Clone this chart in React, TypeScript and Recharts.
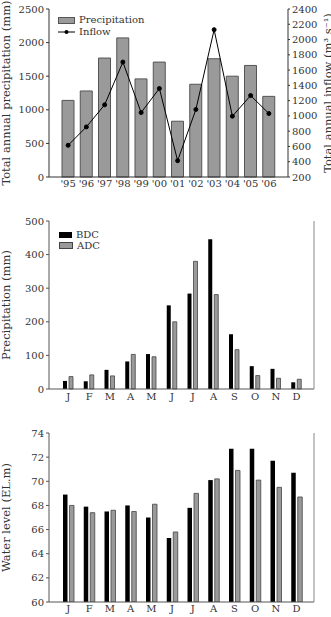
import { ComposedChart, BarChart, Bar, Line, XAxis, YAxis, Legend, Label } from "recharts";

const years = ["'95", "'96", "'97", "'98", "'99", "'00", "'01", "'02", "'03", "'04", "'05", "'06"];
const precipitation = [1140, 1280, 1770, 2070, 1460, 1710, 830, 1380, 1760, 1500, 1660, 1200];
const inflow = [615, 856, 1145, 1705, 1044, 1359, 414, 1084, 2129, 996, 1267, 1031];

const months = ["J", "F", "M", "A", "M", "J", "J", "A", "S", "O", "N", "D"];
const bdcPrecip = [24, 23, 57, 82, 104, 249, 284, 446, 163, 68, 60, 20];
const adcPrecip = [37, 42, 39, 103, 96, 200, 380, 281, 117, 40, 32, 29];
const bdcLevel = [68.9, 67.9, 67.5, 68.0, 67.0, 65.3, 67.8, 70.1, 72.7, 72.7, 71.7, 70.7];
const adcLevel = [68.0, 67.4, 67.6, 67.5, 68.1, 65.8, 69.0, 70.2, 70.9, 70.1, 69.5, 68.7];

const annualData = years.map((year, i) => ({ year, precipitation: precipitation[i], inflow: inflow[i] }));
// month letters repeat, so the category key is the month index
const precipData = months.map((_, i) => ({ m: i, BDC: bdcPrecip[i], ADC: adcPrecip[i] }));
const levelData = months.map((_, i) => ({ m: i, BDC: bdcLevel[i], ADC: adcLevel[i] }));
const monthLabel = (i: number) => months[i];

const GRAY = "#9a9a9a";
const tick = { fill: "#333", fontSize: 10 };
const labelStyle = { fill: "#333", fontSize: 11.5, textAnchor: "middle" as const };

function AnnualLegend() {
  return (
    <div style={{ fontSize: 10, color: "#333", lineHeight: "12px" }}>
      <div style={{ display: "flex", alignItems: "center" }}>
        <span style={{ width: 15, height: 5, background: GRAY, border: "1px solid #555", marginRight: 4 }} />
        Precipitation
      </div>
      <div style={{ display: "flex", alignItems: "center" }}>
        <svg width={17} height={6} style={{ marginRight: 4 }}>
          <line x1={0} y1={3} x2={17} y2={3} stroke="#000" />
          <circle cx={8.5} cy={3} r={2} fill="#000" />
        </svg>
        Inflow
      </div>
    </div>
  );
}

function MonthLegend() {
  return (
    <div style={{ fontSize: 10, color: "#333", lineHeight: "11px" }}>
      <div style={{ display: "flex", alignItems: "center" }}>
        <span style={{ width: 13, height: 6, background: "#000", marginRight: 4 }} />
        BDC
      </div>
      <div style={{ display: "flex", alignItems: "center" }}>
        <span style={{ width: 12, height: 5, background: GRAY, border: "1px solid #444", marginRight: 4 }} />
        ADC
      </div>
    </div>
  );
}

export default function App() {
  return (
    <div style={{ position: "fixed", left: 0, top: 0, width: 331, height: 617, fontFamily: "DejaVu Serif", background: "#fff" }}>
      <div style={{ position: "absolute", left: 0, top: 0 }}>
        <ComposedChart width={331} height={200} data={annualData} margin={{ top: 9, right: 0, bottom: 3, left: 0 }}>
          <XAxis dataKey="year" tick={tick} tickLine={false} tickSize={0} tickMargin={3} interval={0} height={20} padding={{ left: 10, right: 10 }} stroke="#333" />
          <XAxis xAxisId="top" orientation="top" height={0} tick={false} tickLine={false} stroke="#333" />
          <YAxis yAxisId="left" width={49} domain={[0, 2500]} ticks={[0, 500, 1000, 1500, 2000, 2500]} interval={0} tick={tick} tickSize={3} stroke="#333">
            <Label value="Total annual precipitation (mm)" angle={-90} position="insideLeft" offset={6} style={labelStyle} />
          </YAxis>
          <YAxis yAxisId="right" orientation="right" width={43} domain={[200, 2400]} ticks={[200, 400, 600, 800, 1000, 1200, 1400, 1600, 1800, 2000, 2200, 2400]} interval={0} tick={tick} tickSize={2} stroke="#333">
            <Label value="Total annual inflow (m³ s⁻¹)" angle={-90} position="insideRight" offset={3} style={labelStyle} />
          </YAxis>
          <Legend layout="vertical" align="center" verticalAlign="middle" wrapperStyle={{ left: 58, top: 14, width: "auto" }} content={() => <AnnualLegend />} />
          <Bar yAxisId="left" dataKey="precipitation" name="Precipitation" barSize={12} fill={GRAY} stroke="#555" isAnimationActive={false} />
          <Line yAxisId="right" dataKey="inflow" name="Inflow" stroke="#000" strokeWidth={1} dot={{ r: 2, fill: "#000", stroke: "#000" }} isAnimationActive={false} />
        </ComposedChart>
      </div>

      <div style={{ position: "absolute", left: 0, top: 200 }}>
        <BarChart width={331} height={210} data={precipData} margin={{ top: 21, right: 0, bottom: 1, left: 0 }} barGap={2}>
          <XAxis dataKey="m" tickFormatter={monthLabel} tick={tick} tickLine={false} tickSize={0} tickMargin={4} interval={0} height={20} padding={{ left: 9, right: 7 }} stroke="#555" />
          <XAxis xAxisId="top" orientation="top" height={0} tick={false} tickLine={false} stroke="#888" />
          <YAxis width={49} domain={[0, 500]} ticks={[0, 100, 200, 300, 400, 500]} interval={0} tick={tick} tickSize={3} stroke="#555">
            <Label value="Precipitation (mm)" angle={-90} position="insideLeft" offset={6} style={labelStyle} />
          </YAxis>
          <YAxis yAxisId="r" orientation="right" width={17} tick={false} tickLine={false} stroke="#888" />
          <Legend layout="vertical" align="center" verticalAlign="middle" wrapperStyle={{ left: 59, top: 29, width: "auto" }} content={() => <MonthLegend />} />
          <Bar dataKey="BDC" barSize={4} fill="#000" isAnimationActive={false} />
          <Bar dataKey="ADC" barSize={4} fill={GRAY} stroke="#444" strokeWidth={0.8} isAnimationActive={false} />
        </BarChart>
      </div>

      <div style={{ position: "absolute", left: 0, top: 410 }}>
        <BarChart width={331} height={207} data={levelData} margin={{ top: 23, right: 0, bottom: 0, left: 0 }} barGap={2}>
          <XAxis dataKey="m" tickFormatter={monthLabel} tick={tick} tickLine={false} tickSize={0} tickMargin={3} interval={0} height={15} padding={{ left: 9, right: 7 }} stroke="#555" />
          <XAxis xAxisId="top" orientation="top" height={0} tick={false} tickLine={false} stroke="#888" />
          <YAxis width={49} domain={[60, 74]} ticks={[60, 62, 64, 66, 68, 70, 72, 74]} interval={0} tick={tick} tickSize={3} stroke="#555" allowDataOverflow>
            <Label value="Water level (EL.m)" angle={-90} position="insideLeft" offset={6} style={labelStyle} />
          </YAxis>
          <YAxis yAxisId="r" orientation="right" width={17} tick={false} tickLine={false} stroke="#888" />
          <Bar dataKey="BDC" barSize={4.5} fill="#000" isAnimationActive={false} />
          <Bar dataKey="ADC" barSize={4.5} fill={GRAY} stroke="#444" strokeWidth={0.8} isAnimationActive={false} />
        </BarChart>
      </div>
    </div>
  );
}
